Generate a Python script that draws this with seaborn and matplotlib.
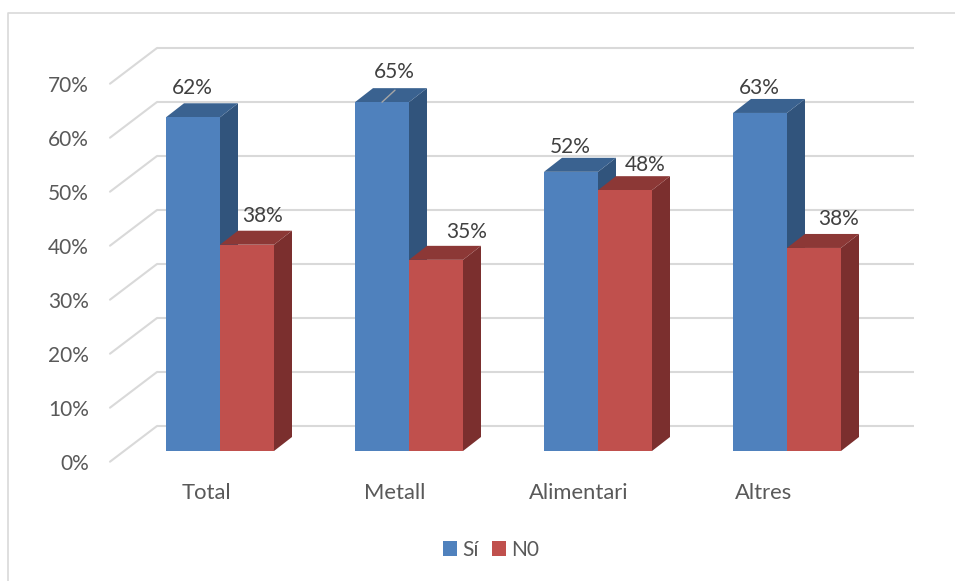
import pandas as pd
import seaborn as sns
import matplotlib.pyplot as plt
from matplotlib.lines import Line2D
from matplotlib.patches import Polygon
from matplotlib.transforms import Affine2D

categories = ["Total", "Metall", "Alimentari", "Altres"]
si_values = [0.618, 0.646, 0.517, 0.626]
no_values = [0.382, 0.354, 0.483, 0.376]
si_name = "Sí"
no_name = "N0"
y_ticks = [0, 0.1, 0.2, 0.3, 0.4, 0.5, 0.6, 0.7]
y_tick_labels = ["0%", "10%", "20%", "30%", "40%", "50%", "60%", "70%"]

W, H = 955, 581
BLUE, BLUE_SIDE, BLUE_TOP = "#4F81BD", "#31547C", "#3A6290"
RED, RED_SIDE, RED_TOP = "#C0504D", "#7B2F2E", "#8C3836"
GRID = "#D9D9D9"

# pixel offsets of the value labels, from bar centre/top
label_off = {
    si_name: [(-1, 29), (12, 30), (-1, 25), (-1, 25)],
    no_name: [(16, 29), (31, 28), (20, 25), (25, 29)],
}
cat_label_off = [-14, -14.5, -19, -23]

df = pd.DataFrame({"cat": categories, si_name: si_values, no_name: no_values})
df = df.melt(id_vars="cat", var_name="serie", value_name="val")

sns.set_theme(style="white")
plt.rcParams["font.family"] = ["Lato", "DejaVu Sans"]

fig = plt.figure(figsize=(W / 100, H / 100), dpi=100)
# front plane of the bars: x 125.5..881.5, 0% at y=451, 70% at y=73
ax = fig.add_axes([125.5 / W, 1 - 451 / H, 756 / W, 378 / H])

sns.barplot(
    data=df, x="cat", y="val", hue="serie",
    palette=[BLUE, RED], saturation=1, width=108 / 189,
    errorbar=None, linewidth=0, ax=ax,
)
ax.set_ylim(0, 0.7)
ax.set_xlim(-0.5, 3.5)
ax.set_xlabel("")
ax.set_ylabel("")
sns.despine(ax=ax, left=True, bottom=True)
ax.set_yticks(y_ticks)
ax.set_yticklabels(y_tick_labels)
ax.tick_params(axis="y", length=0, pad=26.5, labelsize=15, labelcolor="#595959")
ax.tick_params(axis="x", length=0, pad=23, labelsize=15.8, labelcolor="#595959")
ax.grid(False)

# move tick labels to where the reference has them
for lab in ax.get_yticklabels():
    lab.set_transform(lab.get_transform() + Affine2D().translate(0, -10.7))
for lab, off in zip(ax.get_xticklabels(), cat_label_off):
    lab.set_transform(lab.get_transform() + Affine2D().translate(off, 0))

# back wall and floor lines
trans = ax.get_yaxis_transform()
back = trans + Affine2D().translate(0, 25)
xa = lambda px: (px - 125.5) / 756
for v in y_ticks:
    ax.plot([xa(157), xa(914)], [v, v], transform=back, color=GRID, lw=1.5,
            clip_on=False, zorder=0, solid_capstyle="butt")
    p0 = trans.transform((xa(110), v)) + (0, -10.7)
    p1 = back.transform((xa(157), v))
    ax.add_artist(Line2D([p0[0], p1[0]], [p0[1], p1[1]], transform=None,
                         color=GRID, lw=1.5, zorder=0, clip_on=False))

# depth of the bars
ddx = 18 / 189
ddy = 14 * 0.7 / 378
for cont, name, side, top, z in zip(ax.containers, [si_name, no_name],
                                    [BLUE_SIDE, RED_SIDE], [BLUE_TOP, RED_TOP], [2, 3]):
    for i, bar in enumerate(cont):
        bar.set_zorder(z + 0.5)
        x0, x1, h = bar.get_x(), bar.get_x() + bar.get_width(), bar.get_height()
        ax.add_patch(Polygon([(x1, 0), (x1 + ddx, ddy), (x1 + ddx, h + ddy), (x1, h)],
                             facecolor=side, edgecolor="none", zorder=z, clip_on=False))
        ax.add_patch(Polygon([(x0, h), (x0 + ddx, h + ddy), (x1 + ddx, h + ddy), (x1, h)],
                             facecolor=top, edgecolor="none", zorder=z, clip_on=False))
        off = label_off[name][i]
        ax.annotate(f"{h:.0%}", xy=((x0 + x1) / 2, h), xytext=off, textcoords="offset pixels",
                    ha="center", va="center", fontsize=15, color="#404040", zorder=6)

# leader line of the Metall label
bar = ax.containers[0][1]
ax.annotate("", xy=(bar.get_x() + bar.get_width() / 2, bar.get_height()), xytext=(13, 12),
            textcoords="offset pixels",
            arrowprops=dict(arrowstyle="-", color="#A6A6A6", lw=1, shrinkA=0, shrinkB=0),
            zorder=6)

handles, labels = ax.get_legend_handles_labels()
ax.legend(
    handles, labels, loc="center", bbox_to_anchor=(491 / W, 1 - 550 / H),
    bbox_transform=fig.transFigure, ncol=2, frameon=False, fontsize=15,
    labelcolor="#595959", handlelength=0.69, handleheight=0.69,
    handletextpad=0.25, columnspacing=0.6, borderpad=0, borderaxespad=0,
)

# chart frame (left and top edges are the visible ones)
fig.add_artist(Line2D([8 / W, 8 / W, 1], [0, 1 - 13 / H, 1 - 13 / H],
                      color=GRID, lw=1.2, transform=fig.transFigure))

fig.savefig("out.png", dpi=100)
